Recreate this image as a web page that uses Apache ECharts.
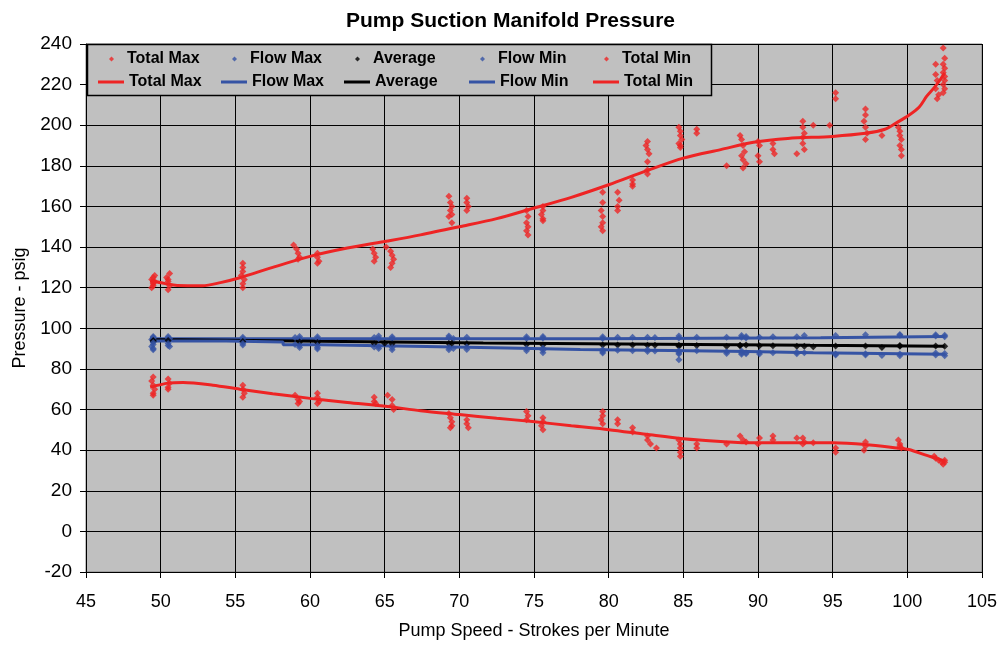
<!DOCTYPE html>
<html>
<head>
<meta charset="utf-8">
<script src="https://cdn.jsdelivr.net/npm/echarts@6/dist/echarts.min.js"></script>
<style>html,body{margin:0;padding:0;background:#fff;}#c{width:1004px;height:645px;}</style>
</head>
<body>
<div id="c"></div>
<script>
// ---- axis ranges / tick labels ----
const xTicks = [45, 50, 55, 60, 65, 70, 75, 80, 85, 90, 95, 100, 105];
const yTicks = [-20, 0, 20, 40, 60, 80, 100, 120, 140, 160, 180, 200, 220, 240];

// ---- scatter data [strokes per minute, psig] ----
const totalMaxPts = [
  [49.4,120],[49.5,121],[49.5,122],[49.6,123],[49.4,124],[49.5,125],[49.6,126],[49.5,122.5],
  [50.5,119],[50.6,121],[50.5,123],[50.4,125],[50.6,127],[50.5,124],
  [55.5,120],[55.5,122],[55.6,124],[55.4,126],[55.5,128],[55.5,130],[55.5,132],
  [58.9,141],[59.1,139],[59.2,137],[59.3,135],[59.2,134],
  [60.5,137],[60.5,135],[60.6,133],[60.5,132],
  [64.2,139],[64.3,137],[64.4,135],[64.3,133],
  [65.1,140],[65.4,138],[65.5,136],[65.6,134],[65.5,132],[65.4,130],
  [69.3,165],[69.4,162],[69.5,160],[69.4,158],[69.5,156],[69.3,155],[69.5,152],
  [70.5,164],[70.5,162],[70.6,160],[70.5,158],
  [74.5,158],[74.6,155],[74.5,152],[74.6,150],[74.5,148],[74.6,146],
  [75.6,160],[75.6,158],[75.5,156],[75.6,154],[75.6,153],
  [79.6,167],[79.6,162],[79.5,158],[79.6,155],[79.6,152],[79.5,150],[79.6,148],
  [80.6,167],[80.7,163],[80.6,160],[80.6,158],
  [81.6,173],[81.6,171],[81.6,170],
  [82.6,192],[82.5,190],[82.6,188],[82.7,186],[82.6,182],[82.6,178],[82.6,176],
  [84.7,199],[84.8,197],[84.8,195],[84.9,193],[84.7,191],[84.8,190],[84.8,189],
  [85.9,198],[85.9,196],
  [87.9,180],
  [88.8,195],[88.9,193],[89.0,190],[89.1,187],[88.9,185],[89.0,183],[89.2,181],[89.0,179],
  [90.0,192],[90.1,190],[90.0,185],[90.1,182],
  [91.0,191],[91.0,188],[91.1,186],
  [92.6,186],
  [93.0,202],[93.0,199],[93.1,196],[93.0,194],[93.0,191],[93.1,188],
  [93.7,200],[94.8,200],
  [95.2,216],[95.2,213],
  [97.2,208],[97.2,205],[97.1,202],[97.2,199],[97.3,196],[97.2,193],
  [98.3,195],
  [99.4,199],[99.5,197],[99.5,195],[99.6,193],[99.5,190],[99.6,188],[99.6,185],
  [101.9,230],[101.9,225],[102.0,222],[101.9,218],[102.1,215],[102.0,213],
  [102.4,238],[102.5,233],[102.4,230],[102.5,228],[102.4,226],[102.5,224],[102.5,222],[102.4,220],[102.5,218],[102.4,216]
];
const flowMaxPts = [
  [49.5,95.5],[49.5,95],[49.4,94.5],[49.5,96],[50.5,96],[50.5,95.2],[50.6,94.8],
  [55.5,95.6],[55.5,94.8],[59.0,95.5],[59.3,96],[59.3,95],[60.5,95.8],[60.5,95],
  [64.3,95.5],[64.6,96.2],[64.6,95],[65.5,95.8],[65.5,95],[69.3,95.5],[69.3,96.2],[69.6,95],
  [70.5,95.6],[74.5,95.8],[74.5,95],[75.6,96],[75.6,95.2],[79.6,95.8],[79.6,95],[80.6,95.6],
  [81.6,95.6],[82.6,95.6],[83.1,95.5],[84.7,96.2],[84.7,95.2],[85.9,95.6],[87.9,95.6],
  [88.9,96.4],[88.9,95.6],[89.2,96],[89.2,95.2],[90.1,95.6],[91.0,95.8],[92.6,95.8],[93.1,96.4],
  [95.2,96.5],[97.2,96.8],[99.5,96.6],[99.5,97],[101.9,96.8],[101.9,96.2],[102.5,96.6],[102.5,95.8]
];
const averagePts = [
  [49.5,94],[49.5,93.5],[50.5,94],[55.5,93.5],[59.3,93.2],[60.5,93],[64.3,92.5],[65.0,92.6],[65.5,92.4],
  [69.3,92.5],[69.5,92.6],[70.5,92.4],[74.5,92],[75.6,91.8],[79.6,91.8],[80.6,91.8],[81.6,91.8],
  [82.6,91.6],[83.1,91.7],[84.7,91.6],[84.7,91.2],[85.9,91.5],[87.9,91.2],[88.8,91.6],[88.8,91.4],
  [89.2,91.8],[90.1,91.4],[91.0,91.4],[92.6,91.2],[93.1,91.2],[93.7,90.9],[95.2,91.3],[97.2,91.3],
  [98.3,90.6],[99.5,91.2],[99.5,91.5],[101.9,91.3],[102.5,91.2]
];
const flowMinPts = [
  [49.5,93],[49.5,92],[49.4,91],[49.5,90],[49.5,89.5],[50.5,92.5],[50.5,91.5],[50.6,91],
  [55.5,92.5],[55.5,91.8],[59.0,92],[59.3,91.5],[59.3,90.5],[60.5,91.5],[60.5,90.5],[60.5,89.8],
  [64.3,90.8],[64.6,91],[64.6,90],[65.5,90.5],[65.5,89.5],[69.3,90.5],[69.3,89.5],[69.6,90],
  [70.5,90.8],[70.5,89.6],[74.5,90],[74.5,89],[75.6,90.2],[75.6,89.2],[75.6,88],
  [79.6,89.5],[79.6,88.5],[79.6,87.8],[80.6,89.2],[81.6,89],[82.6,89.5],[82.6,88.6],[83.1,88.8],
  [84.7,89],[84.7,88],[84.7,87.3],[84.7,84.5],[85.9,89],[87.9,88.5],[87.9,87.6],
  [88.9,88.8],[88.9,87.8],[88.9,87.2],[89.2,88],[89.2,87.5],[90.1,88.2],[90.1,87.4],[91.0,88],
  [92.6,88.2],[92.6,87.5],[93.1,88],[95.2,87.3],[95.2,86.8],[97.2,87.5],[97.2,86.8],[98.3,86.6],
  [99.5,87.4],[99.5,86.5],[101.9,87.8],[101.9,86.8],[102.5,87.6],[102.5,86.5]
];
const totalMinPts = [
  [49.5,76],[49.4,74],[49.5,72],[49.6,70],[49.5,68],[49.5,67],
  [50.5,75],[50.6,73],[50.5,71],[50.5,70],
  [55.5,72],[55.5,70],[55.6,68],[55.5,66],
  [59.0,67],[59.2,65],[59.3,64],[59.2,63],
  [60.5,68],[60.5,66],[60.6,64],[60.5,63],
  [64.3,66],[64.3,64],[64.4,63],
  [65.2,67],[65.5,65],[65.5,62],[65.6,60],
  [69.3,58],[69.4,56],[69.5,54],[69.5,52],[69.4,51],
  [70.5,55],[70.5,53],[70.6,51],
  [74.5,59],[74.6,57],[74.5,55],
  [75.6,56],[75.6,54],[75.5,52],[75.6,50],
  [79.6,59],[79.6,57],[79.5,55],[79.6,53],
  [80.6,55],[80.6,53],
  [81.6,51],[81.6,49],
  [82.6,47],[82.6,45],[82.8,43],[83.2,41],
  [84.7,45],[84.8,43],[84.8,41],[84.8,39],[84.8,37],
  [85.9,43],[85.9,41],
  [87.9,43],
  [88.8,47],[89.0,45],[89.2,44],[90.0,43],[90.1,46],
  [91.0,47],[91.0,45],[92.6,46],
  [93.0,46],[93.1,44],[93.0,43],[93.7,43.6],
  [95.2,41],[95.2,39],
  [97.2,44],[97.2,42],[97.1,40],
  [99.4,45],[99.5,43],[99.5,42],[99.6,41],
  [101.8,37],[101.9,36],[102.1,35],[102.3,34],[102.4,33],[102.5,35],[102.5,34]
];

// ---- trend lines ----
const totalMaxLine = [
  [49.3,123.5],[50.3,122],[51.1,121.1],[52.8,121],[54,122.5],[55.3,124.9],[57.5,130],[60,135.4],
  [62.5,139.5],[65.2,143],[67.4,146],[70,150],[72.5,154],[74.9,159],[77.5,164.5],[80,170.7],
  [82.5,177.5],[85,183.8],[87.5,188],[89.7,191.6],[92,193.5],[95,194.5],[97.2,196],[98.5,198],
  [99.3,201.3],[100.1,204.9],[100.8,209],[101.3,214.3],[101.8,218.5],[102.2,222.4],[102.5,225.8]
];
const flowMaxLine = [
  [49.3,94.8],[79.4,94.8],[79.4,95.3],[94.2,95.3],[94.2,96],[102.5,96]
];
const averageLine = [
  [49.3,94.4],[51.3,94.4],[51.3,93.6],[60.7,93.6],[60.7,92.8],[71.6,92.8],[71.6,92.2],
  [83.4,92.2],[83.4,91.6],[93.5,91.6],[93.5,91.2],[102.5,91.2]
];
const flowMinLine = [
  [49.3,93.7],[54.4,93.7],[54.4,93.2],[58.2,93.2],[58.2,91.9],[60.7,91.9],[60.7,91.1],
  [67.8,91.1],[67.8,90.3],[73.2,90.3],[73.2,89.6],[78.1,89.6],[78.1,89.1],[84.1,89.1],
  [84.1,88.6],[89.3,88.6],[89.3,88],[93.7,88],[93.7,87.2],[102.5,87.2]
];
const totalMinLine = [
  [49.3,71],[50.5,73],[51.5,73.3],[53.5,72],[55.3,70],[57.5,67.8],[60,65.5],[62.5,63.5],
  [65.2,61.5],[67.4,59.4],[70,57.5],[72.5,55.7],[74.9,54.1],[77.5,52],[80,50.1],[82.5,47.8],
  [85,45.6],[87.5,44.3],[89.7,43.6],[95,43.6],[97.2,42.8],[99.3,41.1],[100.1,40.3],
  [101.3,37.4],[102,35.8],[102.5,34.6]
];

const RED = '#ee2424', BLUE = '#3553a4', BLACK = '#000000';
const FONT = 'Liberation Sans, Arial, sans-serif';

const scatterDefs = [
  {name: 'Total Max', data: totalMaxPts, color: RED},
  {name: 'Flow Max', data: flowMaxPts, color: BLUE},
  {name: 'Average', data: averagePts, color: BLACK},
  {name: 'Flow Min', data: flowMinPts, color: BLUE},
  {name: 'Total Min', data: totalMinPts, color: RED}
];
const lineDefs = [
  {name: 'Total Max ', data: totalMaxLine, color: RED, smooth: 0.3},
  {name: 'Flow Max ', data: flowMaxLine, color: BLUE, smooth: false},
  {name: 'Average ', data: averageLine, color: BLACK, smooth: false},
  {name: 'Flow Min ', data: flowMinLine, color: BLUE, smooth: false},
  {name: 'Total Min ', data: totalMinLine, color: RED, smooth: 0.3}
];

const series = [];
lineDefs.forEach(d => series.push({
  name: d.name, type: 'line', data: d.data, showSymbol: false, symbol: 'none',
  smooth: d.smooth, z: 2, animation: false,
  lineStyle: {color: d.color, width: 3}, itemStyle: {color: d.color}
}));
scatterDefs.forEach(d => series.push({
  name: d.name, type: 'scatter', data: d.data, symbol: 'diamond', symbolSize: 7,
  z: 3, animation: false, itemStyle: {color: d.color}
}));

const colX = [0, 123, 246, 371, 495];
const legends = [];
scatterDefs.forEach((d, i) => legends.push({
  data: [{name: d.name, icon: 'diamond'}], left: 109 + colX[i], top: 51, itemWidth: 5, itemHeight: 5,
  selectedMode: false, z: 10, padding: 0,
  textStyle: {fontFamily: FONT, fontWeight: 'bold', fontSize: 16, color: '#000', padding: [0, 0, 0, 8]}
}));
lineDefs.forEach((d, i) => legends.push({
  data: [{name: d.name, icon: 'rect'}], left: 98 + colX[i], top: 74, itemWidth: 26, itemHeight: 3,
  selectedMode: false, z: 10, padding: 0,
  formatter: n => n.trim(),
  textStyle: {fontFamily: FONT, fontWeight: 'bold', fontSize: 16, color: '#000'}
}));

const chart = echarts.init(document.getElementById('c'), null, {renderer: 'canvas'});
chart.setOption({
  animation: false,
  backgroundColor: '#ffffff',
  title: {
    text: 'Pump Suction Manifold Pressure', left: 341, top: 6,
    textStyle: {fontFamily: FONT, fontWeight: 'bold', fontSize: 21, color: '#000'}
  },
  grid: {left: 86, right: 22, top: 44, bottom: 67, show: true, backgroundColor: '#c0c0c0',
         borderColor: '#808080', borderWidth: 1, containLabel: false},
  legend: legends,
  graphic: [{
    type: 'rect', z: 5, shape: {x: 87.5, y: 44.5, width: 624, height: 51},
    style: {fill: '#c0c0c0', stroke: '#000', lineWidth: 1.5}
  }],
  xAxis: {
    type: 'value', min: xTicks[0], max: xTicks[xTicks.length - 1], interval: 5,
    name: 'Pump Speed - Strokes per Minute', nameLocation: 'middle', nameGap: 50,
    nameTextStyle: {fontFamily: FONT, fontSize: 18, color: '#000'},
    axisLine: {show: true, onZero: false, lineStyle: {color: '#000', width: 1}},
    axisTick: {show: true, inside: false, length: 6, lineStyle: {color: '#000'}},
    axisLabel: {fontFamily: FONT, fontSize: 18, color: '#000', margin: 21},
    splitLine: {show: true, lineStyle: {color: '#000', width: 1}}
  },
  yAxis: {
    type: 'value', min: yTicks[0], max: yTicks[yTicks.length - 1], interval: 20,
    name: 'Pressure - psig', nameLocation: 'middle', nameGap: 54,
    nameTextStyle: {fontFamily: FONT, fontSize: 18, color: '#000'},
    axisLine: {show: true, onZero: false, lineStyle: {color: '#000', width: 1}},
    axisTick: {show: true, inside: false, length: 6, lineStyle: {color: '#000'}},
    axisLabel: {fontFamily: FONT, fontSize: 19, color: '#000', margin: 14},
    splitLine: {show: true, lineStyle: {color: '#000', width: 1}}
  },
  series: series
});
</script>
</body>
</html>
